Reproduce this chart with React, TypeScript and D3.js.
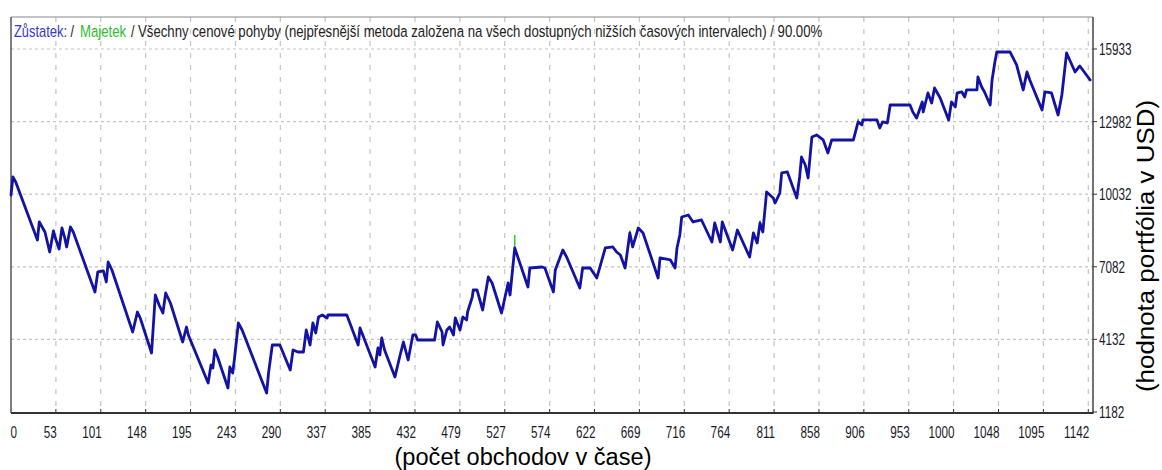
import React, { useLayoutEffect, useRef, useState } from "react";
import * as d3 from "d3";

// [trade number, balance USD]
const balancePoints: [number, number][] = [
  [0,10000],[2,10732],[5,10529],[28,8172],[30,8904],[36,8497],[41,7684],[45,8538],[47,8253],[51,7806],
  [54,8660],[57,8253],[59,7888],[63,8700],[66,8497],[89,6059],[92,6872],[98,6912],[101,6465],[103,7278],
  [107,6953],[129,4433],[134,5246],[137,5002],[149,3580],[153,5937],[157,5530],[161,5205],[164,6018],[169,5612],
  [182,4027],[186,4636],[188,4311],[209,2361],[212,3092],[214,2970],[216,3702],[219,3417],[230,2157],[232,3011],
  [235,2767],[237,3377],[241,4799],[245,4514],[271,1954],[273,2767],[277,3905],[285,3905],[296,2889],[299,3702],
  [304,3620],[310,3620],[313,4514],[317,3905],[320,4799],[323,4393],[326,5043],[330,5124],[335,5002],[336,5124],
  [356,5124],[368,3905],[370,4596],[386,3011],[389,3783],[391,3498],[393,4189],[396,3702],[407,2604],[412,3417],
  [416,4027],[421,3295],[426,4311],[429,4311],[431,4108],[449,4108],[452,4840],[457,4433],[458,3905],[462,4514],
  [465,4636],[469,4311],[471,5002],[476,4514],[479,5043],[483,4921],[484,5246],[489,5856],[490,6140],[494,6140],
  [500,5327],[506,6668],[510,6425],[520,5205],[527,6425],[529,5937],[534,7847],[548,6262],[550,7034],[563,7075],
  [566,7034],[575,6059],[577,6953],[585,7766],[589,7481],[603,6221],[606,7034],[614,7034],[621,6628],[630,7847],
  [638,7888],[642,7684],[646,7562],[651,7034],[656,8457],[659,7888],[665,8660],[670,8457],[686,6628],[688,7441],
  [699,7359],[704,7034],[706,7847],[709,8375],[711,9107],[718,9188],[723,8904],[732,8985],[743,8091],[746,8863],
  [752,8091],[754,8904],[765,7766],[770,8578],[783,7481],[787,8457],[791,8050],[794,8863],[797,8497],[801,10123],
  [808,9879],[810,9676],[815,10082],[817,10895],[823,10936],[833,9879],[836,10732],[838,11545],[842,11220],[845,10692],
  [849,12358],[854,12439],[861,12236],[866,11708],[870,12236],[876,12236],[893,12236],[898,12968],[902,12846],[903,13049],
  [918,13049],[921,12724],[924,12968],[929,12927],[932,13658],[953,13658],[956,13374],[960,13130],[966,13780],[967,13374],
  [972,14146],[976,13740],[979,14349],[985,13943],[994,13049],[997,13780],[1001,13577],[1003,14146],[1008,14187],[1011,13984],
  [1013,14268],[1024,14268],[1025,14796],[1029,14390],[1032,14187],[1038,13658],[1040,14674],[1043,15406],[1045,15812],[1059,15812],
  [1066,15284],[1073,14268],[1077,15000],[1080,14674],[1093,13455],[1096,14187],[1103,14146],[1110,13252],[1114,14065],[1119,15772],
  [1128,15000],[1133,15243],[1144,14674],
];

// equity excursions above balance: [trade, from balance, to equity]
const equitySpikes: [number, number, number][] = [
  [534, 7847, 8375],
  [656, 8457, 8560],
  [794, 8863, 8960],
  [898, 12968, 13100],
];

const xTickLabels = ["0","53","101","148","195","243","290","337","385","432","479","527","574","622","669","716","764","811","858","906","953","1000","1048","1095","1142"];
const yTickValues = [1182, 4132, 7082, 10032, 12982, 15933];

// legend pieces
const legendTexts = ["Zůstatek:", "/", "Majetek", "/", "Všechny cenové pohyby (nejpřesnější metoda založena na všech dostupných nižších časových intervalech) / 90.00%"];
const legendColors = ["#3a3acc", "#222", "#2ebd2e", "#222", "#222"];
const legendX = [14, 70.5, 80, 131, 138];
const legendLen = [53, 3.5, 46, 3.5, 684];

const W = 1162, H = 470;
const L = 11, R = 1093, T = 17, B = 413;

export default function App() {
  const x = d3.scaleLinear().domain([0, 1147]).range([L, R]);
  const y = d3.scaleLinear().domain([1182, 15933]).range([412, 49]);
  const tickPos = (i: number) => x((1142 * i) / 24);
  const line = d3.line<[number, number]>().x(d => x(d[0])).y(d => y(d[1]));
  const font = "'Liberation Sans', Arial, sans-serif";

  const refs = useRef<(SVGTextElement | null)[]>([]);
  const [scales, setScales] = useState<number[]>(legendTexts.map(() => 0.74));
  useLayoutEffect(() => {
    setScales(legendTexts.map((_, i) => {
      const el = refs.current[i];
      const w = el ? el.getComputedTextLength() : 0;
      return w > 0 ? legendLen[i] / w : 0.74;
    }));
  }, []);

  return (
    <svg width={W} height={H} style={{ position: "absolute", left: 0, top: 0, background: "#fff" }}
      xmlns="http://www.w3.org/2000/svg">
      <rect x={0} y={0} width={W} height={H} fill="#fff" />
      {/* grid */}
      {yTickValues.slice(1).map(v => (
        <line key={"gy" + v} x1={L} x2={R} y1={y(v)} y2={y(v)} stroke="#c4c4c4" strokeWidth={1.2} strokeDasharray="3,3" />
      ))}
      {xTickLabels.slice(1).map((_, k) => {
        const xp = tickPos(k + 1);
        return <line key={"gx" + k} x1={xp} x2={xp} y1={T} y2={B} stroke="#c4c4c4" strokeWidth={1.2} strokeDasharray="5,7" />;
      })}
      {/* frame */}
      <line x1={L} x2={R} y1={T} y2={T} stroke="#888" strokeWidth={1} />
      <line x1={L} x2={L} y1={T} y2={B} stroke="#555" strokeWidth={1.5} />
      <line x1={R} x2={R} y1={T} y2={B + 1} stroke="#444" strokeWidth={1.5} />
      <line x1={L} x2={R} y1={B} y2={B} stroke="#333" strokeWidth={2} />
      {/* x ticks */}
      {xTickLabels.map((lab, i) => {
        const xp = tickPos(i);
        return (
          <g key={"xt" + i}>
            {i > 0 && <line x1={xp} x2={xp} y1={B - 4} y2={B} stroke="#333" strokeWidth={1} />}
            <text transform={`translate(${i === 0 ? xp - 0.5 : xp + 1},438) scale(0.69,1)`}
              textAnchor={i === 0 ? "start" : "end"} fontFamily={font} fontSize={17} fill="#1a1a2a">{lab}</text>
          </g>
        );
      })}
      {/* y ticks */}
      {yTickValues.map(v => (
        <g key={"yt" + v}>
          <line x1={R} x2={R + 4} y1={y(v)} y2={y(v)} stroke="#333" strokeWidth={1} />
          <text transform={`translate(1099,${y(v) + 6}) scale(0.69,1)`} fontFamily={font} fontSize={17} fill="#1a1a2a">{v}</text>
        </g>
      ))}
      {/* equity spikes */}
      {equitySpikes.map((s, i) => (
        <line key={"eq" + i} x1={x(s[0])} x2={x(s[0])} y1={y(s[1])} y2={y(s[2])} stroke="#2ecc2e" strokeWidth={1.5} />
      ))}
      {/* balance */}
      <path d={line(balancePoints) || ""} fill="none" stroke="#1212a4" strokeWidth={2.8} strokeLinejoin="round" strokeLinecap="round" />
      {/* legend */}
      {legendTexts.map((t, i) => (
        <text key={"lg" + i} ref={el => { refs.current[i] = el; }}
          transform={`translate(${legendX[i]},37) scale(${scales[i]},1)`}
          fontFamily={font} fontSize={17} fill={legendColors[i]}>{t}</text>
      ))}
      {/* axis titles */}
      <text x={523} y={465} textAnchor="middle" fontFamily={font} fontSize={23} textLength={257}
        lengthAdjust="spacingAndGlyphs" fill="#000">(počet obchodov v čase)</text>
      <text transform="translate(1154,246) rotate(-90)" textAnchor="middle" fontFamily={font} fontSize={23}
        textLength={292} lengthAdjust="spacingAndGlyphs" fill="#000">(hodnota portfólia v USD)</text>
    </svg>
  );
}
